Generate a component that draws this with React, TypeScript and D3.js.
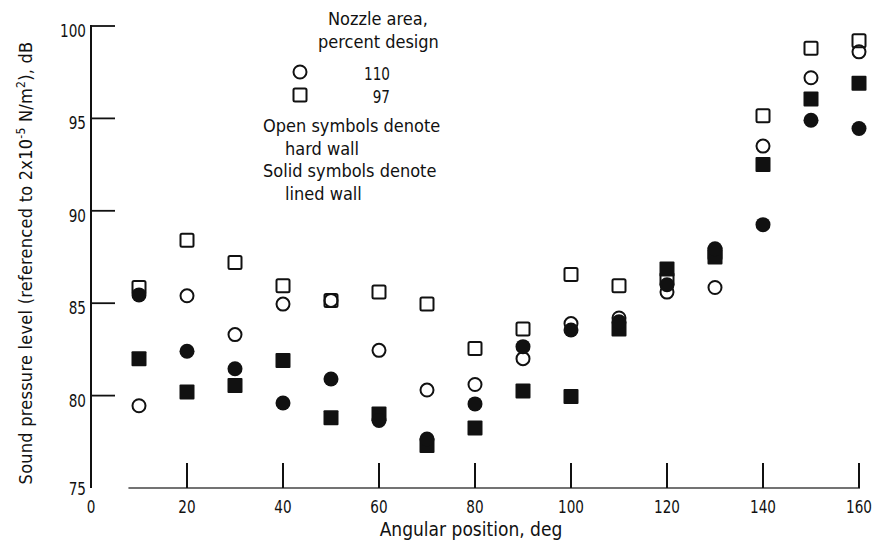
import React from "react";
import * as d3 from "d3";

const angles = [10, 20, 30, 40, 50, 60, 70, 80, 90, 100, 110, 120, 130, 140, 150, 160];
// Nozzle area 110 percent design, hard wall (open circles)
const hard110 = [79.45, 85.4, 83.3, 84.95, 85.15, 82.45, 80.3, 80.6, 82.0, 83.9, 84.2, 85.6, 85.85, 93.5, 97.2, 98.6];
// Nozzle area 97 percent design, hard wall (open squares)
const hard97 = [85.85, 88.4, 87.2, 85.95, 85.15, 85.6, 84.95, 82.55, 83.6, 86.55, 85.95, 86.3, 87.7, 95.15, 98.8, 99.2];
// Nozzle area 110 percent design, lined wall (solid circles)
const lined110 = [85.45, 82.4, 81.45, 79.6, 80.9, 78.65, 77.65, 79.55, 82.65, 83.55, 84.0, 86.0, 87.95, 89.25, 94.9, 94.45];
// Nozzle area 97 percent design, lined wall (solid squares)
const lined97 = [82.0, 80.2, 80.55, 81.9, 78.8, 79.0, 77.3, 78.25, 80.25, 79.95, 83.6, 86.85, 87.5, 92.5, 96.05, 96.9];

const xTickValues = [20, 40, 60, 80, 100, 120, 140, 160];
const xTickLabels = [0, 20, 40, 60, 80, 100, 120, 140, 160];
const yTickValues = [80, 85, 90, 95, 100];
const yTickLabels = [75, 80, 85, 90, 95, 100];

const legendTitle = ["Nozzle area,", "percent design"];
const legendItems = [
  { shape: "circle", label: "110" },
  { shape: "square", label: "97" },
];
const legendNotes = ["Open symbols denote", "hard wall", "Solid symbols denote", "lined wall"];

const FONT = "'DejaVu Sans Condensed', 'Liberation Sans Narrow', 'Arial Narrow', sans-serif";
const INK = "#111";

const W = 875;
const H = 546;

const x = d3.scaleLinear().domain([0, 160]).range([91, 859]);
const y = d3.scaleLinear().domain([75, 100]).range([488, 26]);

const R = 6.5; // open circle radius (stroke center)
const RS = 7.5; // solid circle radius
const SQ = 13; // open square side (stroke center)
const SQS = 15; // solid square side

function OpenCircle({ cx, cy }: { cx: number; cy: number }) {
  return <circle cx={cx} cy={cy} r={R} fill="none" stroke={INK} strokeWidth={2} />;
}
function SolidCircle({ cx, cy }: { cx: number; cy: number }) {
  return <circle cx={cx} cy={cy} r={RS} fill={INK} />;
}
function OpenSquare({ cx, cy }: { cx: number; cy: number }) {
  return (
    <rect x={cx - SQ / 2} y={cy - SQ / 2} width={SQ} height={SQ} rx={1.5} fill="none" stroke={INK} strokeWidth={2} />
  );
}
function SolidSquare({ cx, cy }: { cx: number; cy: number }) {
  return <rect x={cx - SQS / 2} y={cy - SQS / 2} width={SQS} height={SQS} rx={1} fill={INK} />;
}

function Num({ tx, ty, anchor, children }: { tx: number; ty: number; anchor: string; children: any }) {
  return (
    <text transform={`translate(${tx},${ty}) scale(0.84,1)`} textAnchor={anchor} fontSize={18} fill={INK}>
      {children}
    </text>
  );
}

export default function App() {
  const base = y(75);
  return (
    <svg
      width={W}
      height={H}
      viewBox={`0 0 ${W} ${H}`}
      style={{ position: "absolute", left: 0, top: 0, background: "#fff" }}
      fontFamily={FONT}
    >
      <rect x={0} y={0} width={W} height={H} fill="#fff" />

      {/* Y axis */}
      <line x1={x(0)} y1={y(100) - 1} x2={x(0)} y2={base} stroke={INK} strokeWidth={2} />
      {yTickValues.map((v) => (
        <line key={"yt" + v} x1={x(0)} y1={y(v)} x2={x(0) + 24} y2={y(v)} stroke={INK} strokeWidth={1.8} />
      ))}
      {yTickLabels.map((v) => (
        <Num key={"yl" + v} tx={86} ty={Math.min(y(v) + 11, 495)} anchor="end">
          {v}
        </Num>
      ))}

      {/* X axis */}
      <line x1={x(7.8)} y1={base} x2={x(160) + 1} y2={base} stroke="#444" strokeWidth={1.3} />
      {xTickValues.map((v) => (
        <line key={"xt" + v} x1={x(v)} y1={base - 25} x2={x(v)} y2={base} stroke={INK} strokeWidth={2} />
      ))}
      {xTickLabels.map((v) => (
        <Num key={"xl" + v} tx={x(v)} ty={513} anchor="middle">
          {v}
        </Num>
      ))}

      {/* Axis titles */}
      <text x={471} y={536} textAnchor="middle" fontSize={19} fill={INK}>
        Angular position, deg
      </text>
      <text
        transform={`translate(32, 263) rotate(-90)`}
        textAnchor="middle"
        fontSize={18}
        letterSpacing={0.25}
        fill={INK}
      >
        Sound pressure level (referenced to 2x10
        <tspan fontSize={12} dy={-7}>-5</tspan>
        <tspan dy={7}> N/m</tspan>
        <tspan fontSize={12} dy={-7}>2</tspan>
        <tspan dy={7}>), dB</tspan>
      </text>

      {/* Data: open symbols first, solid on top */}
      {angles.map((a, i) => (
        <OpenSquare key={"os" + a} cx={x(a)} cy={y(hard97[i])} />
      ))}
      {angles.map((a, i) => (
        <OpenCircle key={"oc" + a} cx={x(a)} cy={y(hard110[i])} />
      ))}
      {angles.map((a, i) => (
        <SolidSquare key={"ss" + a} cx={x(a)} cy={y(lined97[i])} />
      ))}
      {angles.map((a, i) => (
        <SolidCircle key={"sc" + a} cx={x(a)} cy={y(lined110[i])} />
      ))}

      {/* Legend */}
      <text x={328} y={25} fontSize={18} fill={INK}>
        {legendTitle[0]}
      </text>
      <text x={318} y={48} fontSize={18} fill={INK}>
        {legendTitle[1]}
      </text>
      {legendItems.map((it, i) => {
        const cy = 72 + i * 23;
        return (
          <g key={"lg" + i}>
            {it.shape === "circle" ? <OpenCircle cx={300} cy={cy} /> : <OpenSquare cx={300} cy={cy} />}
            <Num tx={390} ty={cy + 8} anchor="end">
              {it.label}
            </Num>
          </g>
        );
      })}
      {legendNotes.map((t, i) => (
        <text key={"ln" + i} x={i % 2 === 0 ? 263 : 285} y={132 + i * 22.5} fontSize={18} fill={INK}>
          {t}
        </text>
      ))}
    </svg>
  );
}
